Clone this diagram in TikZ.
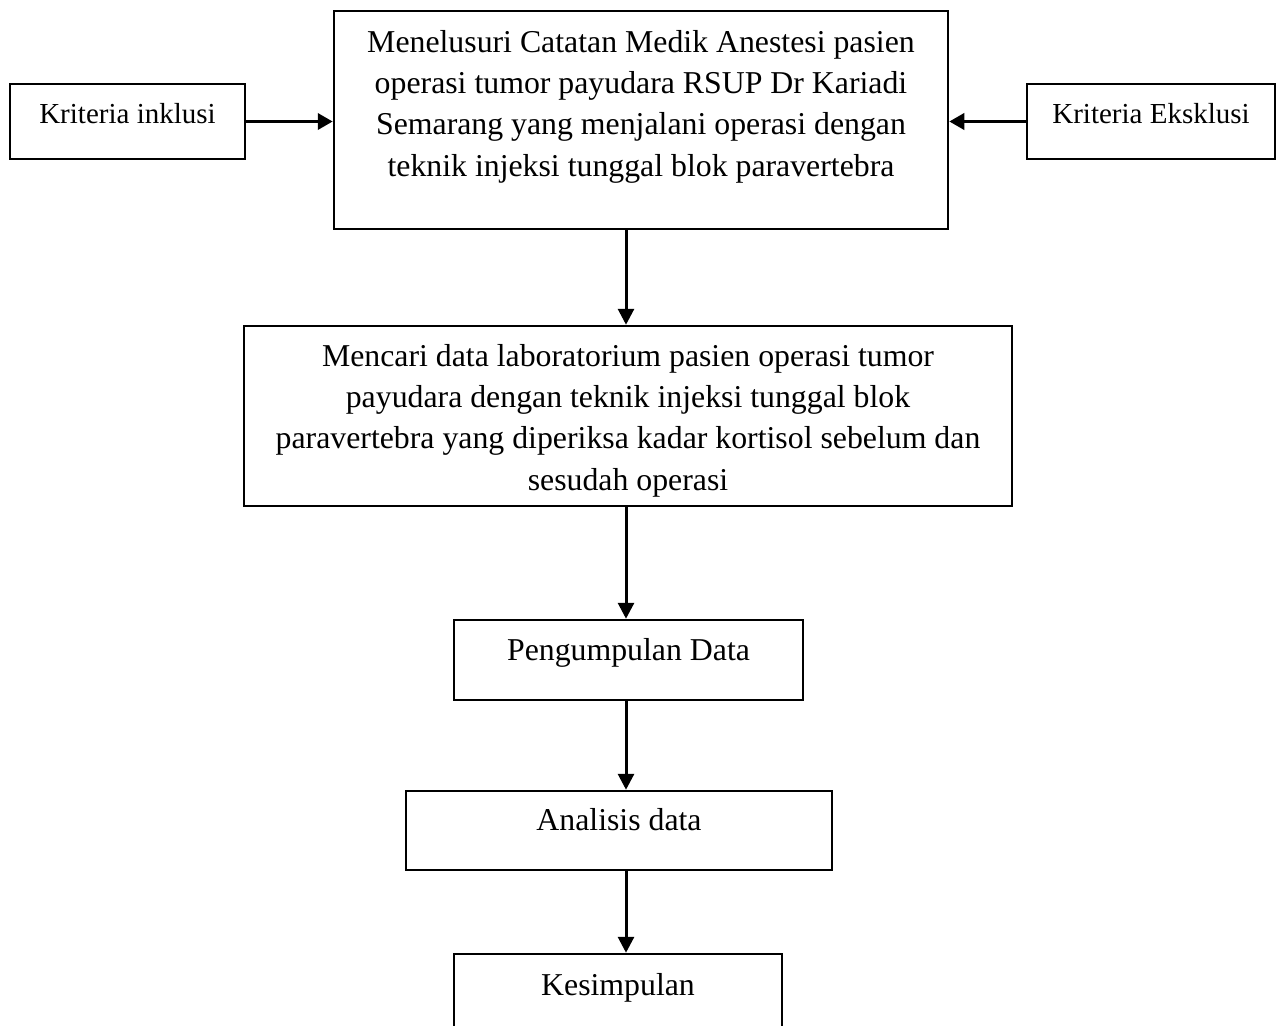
\documentclass[tikz,border=0pt]{standalone}
\usepackage{fontspec}
\setmainfont{Liberation Serif}
\usetikzlibrary{arrows.meta}
\begin{document}
\begin{tikzpicture}[x=1pt,y=-1pt,
  box/.style={draw, line width=2.5pt, inner sep=0pt},
  txt/.style={inner sep=0pt, align=center, font=\fontsize{31.8}{41.3}\selectfont},
  smalltxt/.style={inner sep=0pt, align=center, font=\fontsize{29}{36}\selectfont},
  varr/.style={line width=3pt, -{Triangle[length=16pt,width=16pt]}},
  harr/.style={line width=3.6pt, -{Triangle[length=15pt,width=16pt]}}]
\useasboundingbox (0,0) rectangle (1281,1025);
\clip (0,0) rectangle (1281,1025);
% boxes
\node[box, minimum width=614pt, minimum height=218pt] (main) at (641,120) {};
\node[box, minimum width=235pt, minimum height=75pt] (inkl) at (127.5,121.5) {};
\node[box, minimum width=248pt, minimum height=75pt] (eksk) at (1151,121.5) {};
\node[box, minimum width=768pt, minimum height=180pt] (lab) at (628,416) {};
\node[box, minimum width=349pt, minimum height=80pt] (kumpul) at (628.5,660) {};
\node[box, minimum width=426pt, minimum height=79pt] (analisis) at (619,830.5) {};
\node[box, minimum width=328pt, minimum height=80pt] (simpul) at (618,994) {};
% texts (anchor=base is the baseline of the last line)
\node[txt, anchor=base] (maint) at (641,176) {Menelusuri Catatan Medik Anestesi pasien\\ operasi tumor payudara RSUP Dr Kariadi\\ Semarang yang menjalani operasi dengan\\ teknik injeksi tunggal blok paravertebra};
\node[smalltxt, anchor=base] (inklt) at (127.5,123) {Kriteria inklusi};
\node[smalltxt, anchor=base] (ekskt) at (1151,123) {Kriteria Eksklusi};
\node[txt, anchor=base] (labt) at (628,490) {Mencari data laboratorium pasien operasi tumor\\ payudara dengan teknik injeksi tunggal blok\\ paravertebra yang diperiksa kadar kortisol sebelum dan\\ sesudah operasi};
\node[txt, anchor=base] (kumpult) at (628.5,660) {Pengumpulan Data};
\node[txt, anchor=base] (analisist) at (619,830) {Analisis data};
\node[txt, anchor=base] (simpult) at (618,995) {Kesimpulan};
% connectors
\coordinate (ax) at (626,0);
\draw[harr] (inkl.east) -- (inkl.east -| main.west);
\draw[harr] (eksk.west) -- (eksk.west -| main.east);
\draw[varr] (main.south -| ax) -- (lab.north -| ax);
\draw[varr] (lab.south -| ax) -- (kumpul.north -| ax);
\draw[varr] (kumpul.south -| ax) -- (analisis.north -| ax);
\draw[varr] (analisis.south -| ax) -- (simpul.north -| ax);
\end{tikzpicture}
\end{document}
